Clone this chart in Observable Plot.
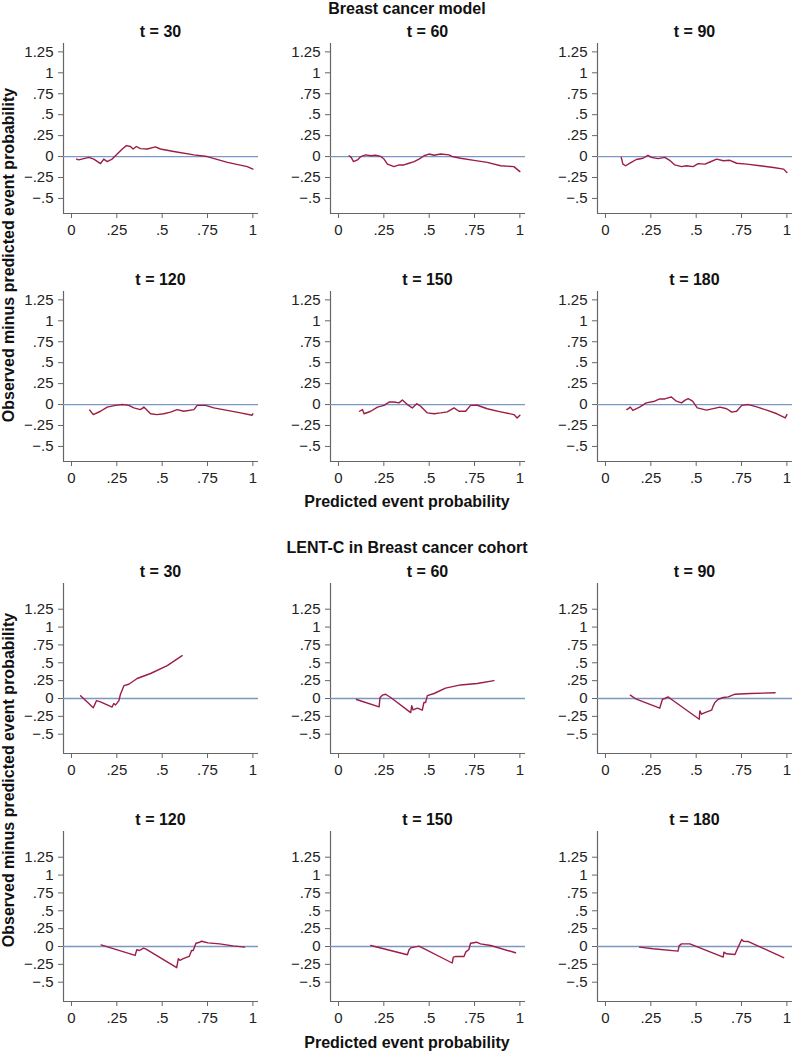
<!DOCTYPE html>
<html>
<head>
<meta charset="utf-8">
<script src="https://cdn.jsdelivr.net/npm/d3@7"></script>
<script src="https://cdn.jsdelivr.net/npm/@observablehq/plot@0.6"></script>
<style>
  html, body { margin: 0; padding: 0; background: #fff; }
  #page { position: relative; width: 793px; height: 1051px; overflow: hidden; background: #fff; font-family: "Liberation Sans", Arial, sans-serif; }
  .panel { position: absolute; }
  #labels { position: absolute; left: 0; top: 0; }
</style>
</head>
<body>
<div id="page"></div>
<script>
// ---- Data ----
const sectionTitles = ["Breast cancer model", "LENT-C in Breast cancer cohort"];
const times = [30, 60, 90, 120, 150, 180];
const xLabel = "Predicted event probability";
const yLabel = "Observed minus predicted event probability";

const xTickValues = [0, 0.25, 0.5, 0.75, 1];
const xTickLabels = ["0", ".25", ".5", ".75", "1"];
const yTickValues = [-0.5, -0.25, 0, 0.25, 0.5, 0.75, 1, 1.25];
const yTickLabels = ["\u2212.5", "\u2212.25", "0", ".25", ".5", ".75", "1", "1.25"];

// Breast cancer model
const bc30_x = [0.028,0.04,0.096,0.123,0.16,0.178,0.197,0.224,0.252,0.28,0.303,0.325,0.34,0.358,0.38,0.417,0.463,0.49,0.564,0.675,0.748,0.86,0.969,1.0];
const bc30_y = [-0.03,-0.04,-0.01,-0.03,-0.085,-0.03,-0.06,-0.03,0.03,0.09,0.13,0.12,0.09,0.12,0.095,0.09,0.115,0.09,0.06,0.02,0.0,-0.07,-0.12,-0.15];
const bc60_x = [0.059,0.07,0.083,0.105,0.123,0.15,0.178,0.205,0.233,0.251,0.27,0.306,0.334,0.361,0.389,0.417,0.444,0.472,0.499,0.527,0.563,0.609,0.627,0.673,0.747,0.82,0.894,0.967,1.0];
const bc60_y = [0.01,-0.01,-0.06,-0.04,0.0,0.02,0.01,0.015,0.0,-0.03,-0.09,-0.12,-0.10,-0.10,-0.08,-0.06,-0.03,0.01,0.03,0.015,0.03,0.02,0.0,-0.02,-0.045,-0.07,-0.11,-0.12,-0.18];
const bc90_x = [0.087,0.096,0.111,0.142,0.17,0.207,0.234,0.253,0.29,0.327,0.354,0.382,0.419,0.446,0.483,0.511,0.548,0.576,0.613,0.65,0.686,0.723,0.779,0.852,0.926,0.982,1.0];
const bc90_y = [-0.01,-0.09,-0.11,-0.07,-0.035,-0.02,0.015,-0.01,-0.025,-0.01,-0.045,-0.10,-0.12,-0.11,-0.12,-0.085,-0.09,-0.065,-0.03,-0.05,-0.045,-0.08,-0.09,-0.11,-0.13,-0.15,-0.19];
const bc120_x = [0.10,0.12,0.16,0.197,0.243,0.28,0.316,0.344,0.38,0.399,0.436,0.472,0.509,0.546,0.583,0.619,0.675,0.693,0.739,0.785,0.858,0.932,0.996,1.0];
const bc120_y = [-0.065,-0.12,-0.08,-0.03,-0.01,0.0,-0.01,-0.04,-0.06,-0.03,-0.11,-0.12,-0.11,-0.09,-0.06,-0.08,-0.06,-0.01,-0.01,-0.04,-0.07,-0.10,-0.127,-0.11];
const bc150_x = [0.116,0.132,0.141,0.178,0.215,0.251,0.279,0.306,0.334,0.352,0.38,0.407,0.431,0.453,0.49,0.527,0.563,0.6,0.637,0.664,0.701,0.728,0.765,0.82,0.894,0.967,0.985,1.0];
const bc150_y = [-0.08,-0.06,-0.11,-0.08,-0.03,-0.01,0.03,0.03,0.02,0.055,0.0,-0.04,0.01,-0.02,-0.10,-0.11,-0.10,-0.087,-0.04,-0.08,-0.08,-0.01,-0.008,-0.05,-0.087,-0.12,-0.16,-0.127];
const bc180_x = [0.118,0.137,0.151,0.188,0.225,0.271,0.299,0.327,0.345,0.363,0.391,0.419,0.437,0.456,0.48,0.506,0.557,0.594,0.631,0.668,0.696,0.723,0.751,0.788,0.834,0.889,0.945,0.991,1.0];
const bc180_y = [-0.06,-0.03,-0.07,-0.03,0.02,0.04,0.067,0.067,0.08,0.09,0.04,0.02,0.05,0.07,0.04,-0.04,-0.067,-0.048,-0.03,-0.05,-0.09,-0.08,-0.01,0.0,-0.028,-0.067,-0.11,-0.16,-0.12];

// LENT-C in Breast cancer cohort
const lc30_x = [0.05,0.09,0.12,0.138,0.16,0.224,0.233,0.243,0.261,0.27,0.289,0.316,0.362,0.436,0.528,0.61];
const lc30_y = [0.04,-0.056,-0.13,-0.03,-0.047,-0.12,-0.07,-0.09,-0.033,0.06,0.18,0.2,0.28,0.35,0.46,0.6];
const lc60_x = [0.099,0.224,0.229,0.242,0.26,0.288,0.398,0.404,0.411,0.435,0.462,0.471,0.48,0.49,0.527,0.59,0.673,0.765,0.857];
const lc60_y = [-0.014,-0.117,0.014,0.047,0.06,0.014,-0.197,-0.10,-0.16,-0.136,-0.164,-0.056,-0.056,0.04,0.07,0.146,0.19,0.21,0.25];
const lc90_x = [0.137,0.17,0.299,0.314,0.327,0.345,0.363,0.517,0.52,0.53,0.548,0.585,0.594,0.603,0.622,0.65,0.677,0.714,0.797,0.935];
const lc90_y = [0.047,-0.01,-0.136,-0.01,0.0,0.023,-0.01,-0.29,-0.174,-0.22,-0.197,-0.164,-0.103,-0.056,-0.01,0.014,0.023,0.06,0.07,0.08];
const lc120_x = [0.163,0.351,0.36,0.375,0.397,0.411,0.58,0.589,0.598,0.616,0.649,0.662,0.671,0.686,0.707,0.717,0.753,0.817,0.89,0.954];
const lc120_y = [0.023,-0.125,-0.046,-0.056,-0.023,-0.037,-0.296,-0.171,-0.194,-0.171,-0.139,-0.056,-0.056,0.046,0.06,0.074,0.051,0.037,0.009,-0.009];
const lc150_x = [0.178,0.38,0.389,0.398,0.444,0.627,0.633,0.646,0.692,0.701,0.719,0.728,0.761,0.783,0.839,0.976];
const lc150_y = [0.014,-0.116,-0.046,-0.019,0.005,-0.231,-0.148,-0.139,-0.139,-0.079,-0.042,0.046,0.06,0.037,0.014,-0.088];
const lc180_x = [0.188,0.262,0.4,0.406,0.419,0.465,0.649,0.653,0.668,0.714,0.723,0.751,0.76,0.788,0.982];
const lc180_y = [-0.009,-0.032,-0.065,0.009,0.037,0.037,-0.148,-0.079,-0.102,-0.111,-0.056,0.097,0.074,0.069,-0.157];

// ---- Layout ----
const FONT = "'Liberation Sans', Arial, Helvetica, sans-serif";
const frameW = 195, frameH = 170;
const mL = 50, mR = 4, mT = 2, mB = 34;
const colLeft = [63, 330, 597];
const sections = [
  { rowsTop: [43, 291], yDomain: [-0.68, 1.35], panels: [[bc30_x,bc30_y],[bc60_x,bc60_y],[bc90_x,bc90_y],[bc120_x,bc120_y],[bc150_x,bc150_y],[bc180_x,bc180_y]] },
  { rowsTop: [583, 831], yDomain: [-0.77, 1.61], panels: [[lc30_x,lc30_y],[lc60_x,lc60_y],[lc90_x,lc90_y],[lc120_x,lc120_y],[lc150_x,lc150_y],[lc180_x,lc180_y]] }
];
const xDomain = [-0.044, 1.031];
const LINE = "#9b1d48", ZERO = "#7b98c4", AXIS = "#666";

function makePanel(xs, ys, yDomain) {
  const data = xs.map((x, i) => ({ x, y: ys[i] }));
  return Plot.plot({
    width: mL + frameW + mR,
    height: mT + frameH + mB,
    marginLeft: mL, marginRight: mR, marginTop: mT, marginBottom: mB,
    style: { fontFamily: FONT, fontSize: "15px", color: "#222", background: "transparent", overflow: "visible" },
    x: { domain: xDomain },
    y: { domain: yDomain },
    marks: [
      Plot.ruleX([xDomain[0]], { stroke: AXIS, strokeWidth: 1.2 }),
      Plot.ruleY([yDomain[0]], { stroke: AXIS, strokeWidth: 1.2 }),
      Plot.axisX({ ticks: xTickValues, tickFormat: d => xTickLabels[xTickValues.indexOf(d)], tickSize: 5, tickPadding: 6, label: null, stroke: AXIS, fill: "#222", fontSize: 15 }),
      Plot.axisY({ ticks: yTickValues, tickFormat: d => yTickLabels[yTickValues.indexOf(d)], tickSize: 5, tickPadding: 5, label: null, stroke: AXIS, fill: "#222", fontSize: 15 }),
      Plot.ruleY([0], { stroke: ZERO, strokeWidth: 1.3 }),
      Plot.line(data, { x: "x", y: "y", stroke: LINE, strokeWidth: 1.4 })
    ]
  });
}

const page = document.getElementById("page");
sections.forEach((sec) => {
  sec.panels.forEach(([xs, ys], i) => {
    const r = Math.floor(i / 3), c = i % 3;
    const svg = makePanel(xs, ys, sec.yDomain);
    svg.classList.add("panel");
    svg.style.left = (colLeft[c] - mL) + "px";
    svg.style.top = (sec.rowsTop[r] - mT) + "px";
    page.appendChild(svg);
  });
});

// ---- Text overlay ----
const overlay = d3.select(page).append("svg").attr("id", "labels")
  .attr("width", 793).attr("height", 1051)
  .style("font-family", FONT).style("pointer-events", "none");

const centerX = 407;
const sectionTitleY = [14, 552.5];
const xLabelY = [507, 1048];
const yLabelCY = [255, 780];
sections.forEach((sec, s) => {
  overlay.append("text").attr("x", centerX).attr("y", sectionTitleY[s])
    .attr("text-anchor", "middle").attr("font-size", 16).attr("font-weight", "bold").attr("fill", "#111")
    .text(sectionTitles[s]);
  times.forEach((t, i) => {
    const r = Math.floor(i / 3), c = i % 3;
    overlay.append("text").attr("x", colLeft[c] + frameW / 2).attr("y", sec.rowsTop[r] - 6.5)
      .attr("text-anchor", "middle").attr("font-size", 16).attr("font-weight", "bold").attr("fill", "#111")
      .text("t = " + t);
  });
  overlay.append("text").attr("x", centerX).attr("y", xLabelY[s])
    .attr("text-anchor", "middle").attr("font-size", 16).attr("font-weight", "bold").attr("fill", "#111")
    .text(xLabel);
  overlay.append("text")
    .attr("transform", `translate(13.5,${yLabelCY[s]}) rotate(-90)`)
    .attr("text-anchor", "middle").attr("font-size", 16).attr("font-weight", "bold").attr("fill", "#111")
    .text(yLabel);
});
</script>
</body>
</html>
